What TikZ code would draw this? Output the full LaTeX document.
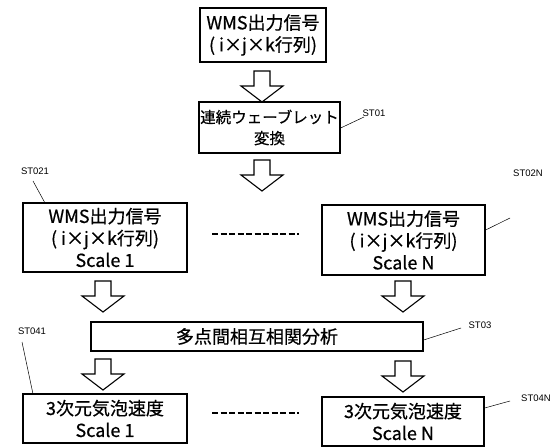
\documentclass[tikz,border=0pt]{standalone}
\usepackage{fontspec}
\newfontfamily\jp[FakeBold=0.6]{Noto Sans CJK JP}
\newfontfamily\lab{Liberation Sans}
\begin{document}
\begin{tikzpicture}[x=1pt,y=-1pt,
  box/.style={draw,line width=1.3pt,inner sep=0pt,align=center,font=\jp\fontsize{18}{22}\selectfont},
  blk/.style={draw,line width=1.1pt,fill=white},
  lead/.style={line width=0.5pt},
  tag/.style={font=\lab\fontsize{9.5}{10}\selectfont,inner sep=1pt},
  dots/.style={line width=2pt,dash pattern=on 6pt off 2.5pt}]
\useasboundingbox (0,0) rectangle (555,447);
\newcommand{\harrow}[2]{\draw[blk] ({#1-8},{#2}) -- ({#1+8},{#2}) -- ({#1+8},{#2+15}) -- ({#1+21},{#2+15}) -- ({#1},{#2+31}) -- ({#1-21},{#2+15}) -- ({#1-8},{#2+15}) -- cycle;}
\node[box,minimum width=126,minimum height=54] (top) at (263,35) {WMS出力信号\\( i×j×k行列)};
\node[box,minimum width=141,minimum height=51,font=\jp\fontsize{15.5}{21}\selectfont] (st01) at (269.5,127.5) {連続ウェーブレット\\変換};
\node[box,minimum width=164,minimum height=69] (st021) at (105,237.5) {WMS出力信号\\( i×j×k行列)\\Scale 1};
\node[box,minimum width=163,minimum height=70] (st02n) at (403.5,240) {WMS出力信号\\( i×j×k行列)\\Scale N};
\node[box,minimum width=332,minimum height=29] (st03) at (257,336.5) {多点間相互相関分析};
\node[box,minimum width=164,minimum height=49] (st041) at (105,418.5) {3次元気泡速度\\Scale 1};
\node[box,minimum width=162,minimum height=49] (st04n) at (403,421.5) {3次元気泡速度\\Scale N};
\harrow{262}{71}
\harrow{262}{160}
\harrow{103}{281}
\harrow{403}{281}
\harrow{103}{359}
\harrow{403}{361}
\coordinate (d1) at (212,234);
\coordinate (d2) at (299,234);
\coordinate (d3) at (212,413);
\coordinate (d4) at (299,413);
\draw[dots] (d1) -- (d2);
\draw[dots] (d3) -- (d4);
\node[tag] (l01) at (374,113) {ST01};
\coordinate (e01) at (364,117);
\draw[lead] (st01.east |- 0,128) -- (e01);
\node[tag] (l021) at (35,171) {ST021};
\coordinate (e021) at (33,181);
\draw[lead] (e021) -- (45,203);
\node[tag] (l02n) at (528,173) {ST02N};
\coordinate (e02n) at (510,218);
\draw[lead] (st02n.east |- 0,230) -- (e02n);
\node[tag] (l03) at (480,325) {ST03};
\coordinate (e03) at (461,328);
\draw[lead] (st03.east |- 0,340) -- (e03);
\node[tag] (l041) at (32,331) {ST041};
\coordinate (e041) at (22,342);
\draw[lead] (e041) -- (33,394);
\node[tag] (l04n) at (536,398) {ST04N};
\coordinate (e04n) at (510,401);
\draw[lead] (st04n.east |- 0,408) -- (e04n);
\end{tikzpicture}
\end{document}
